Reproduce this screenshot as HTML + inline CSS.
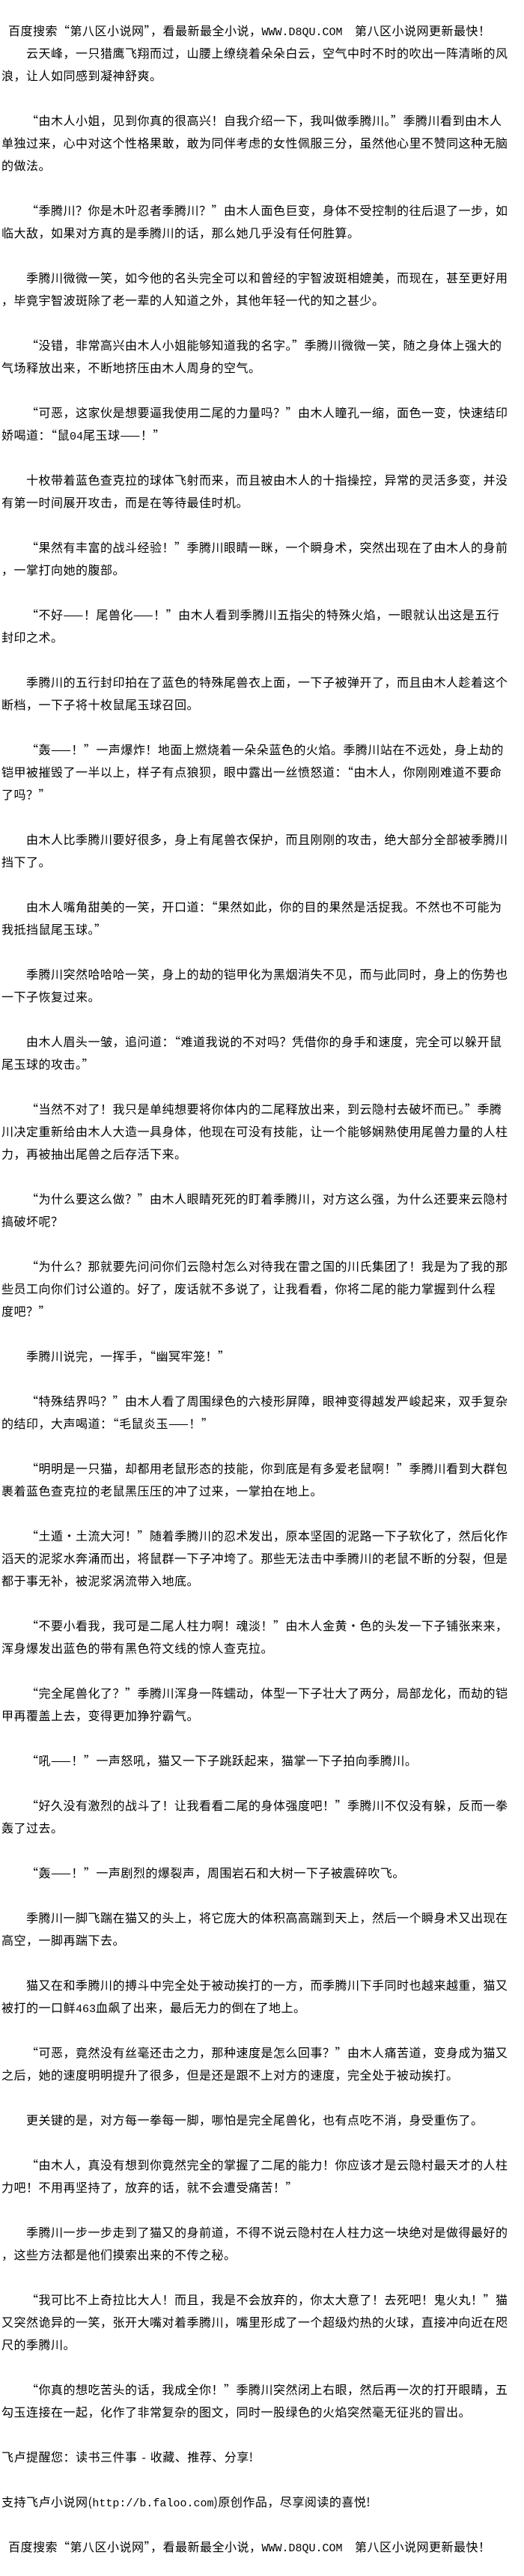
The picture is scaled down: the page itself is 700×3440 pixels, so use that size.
<!DOCTYPE html>
<html><head><meta charset="utf-8">
<style>
html,body{margin:0;padding:0;background:#fff;}
body{width:700px;height:3440px;overflow:hidden;}
#w{padding-top:25px;padding-left:2px;font-family:"Noto Sans CJK SC","Liberation Sans",sans-serif;font-size:16px;letter-spacing:0.5px;color:#000;}
.l{height:30px;line-height:30px;white-space:nowrap;}
.i{padding-left:33px;}
.h{padding-left:9px;}
.m{font-family:"Liberation Mono",monospace;letter-spacing:0;font-size:15px;}
</style></head><body><div id="w">
<div class="l h">百度搜索“第八区小说网”，看最新最全小说，<span class="m">WWW.D8QU.COM</span>　第八区小说网更新最快！</div>
<div class="l i">云天峰，一只猎鹰飞翔而过，山腰上缭绕着朵朵白云，空气中时不时的吹出一阵清晰的风</div>
<div class="l">浪，让人如同感到凝神舒爽。</div>
<div class="l"></div>
<div class="l i">“由木人小姐，见到你真的很高兴！自我介绍一下，我叫做季腾川。”季腾川看到由木人</div>
<div class="l">单独过来，心中对这个性格果敢，敢为同伴考虑的女性佩服三分，虽然他心里不赞同这种无脑</div>
<div class="l">的做法。</div>
<div class="l"></div>
<div class="l i">“季腾川？你是木叶忍者季腾川？”由木人面色巨变，身体不受控制的往后退了一步，如</div>
<div class="l">临大敌，如果对方真的是季腾川的话，那么她几乎没有任何胜算。</div>
<div class="l"></div>
<div class="l i">季腾川微微一笑，如今他的名头完全可以和曾经的宇智波斑相媲美，而现在，甚至更好用</div>
<div class="l">，毕竟宇智波斑除了老一辈的人知道之外，其他年轻一代的知之甚少。</div>
<div class="l"></div>
<div class="l i">“没错，非常高兴由木人小姐能够知道我的名字。”季腾川微微一笑，随之身体上强大的</div>
<div class="l">气场释放出来，不断地挤压由木人周身的空气。</div>
<div class="l"></div>
<div class="l i">“可恶，这家伙是想要逼我使用二尾的力量吗？”由木人瞳孔一缩，面色一变，快速结印</div>
<div class="l">娇喝道：“鼠<span class="m">04</span>尾玉球——！”</div>
<div class="l"></div>
<div class="l i">十枚带着蓝色查克拉的球体飞射而来，而且被由木人的十指操控，异常的灵活多变，并没</div>
<div class="l">有第一时间展开攻击，而是在等待最佳时机。</div>
<div class="l"></div>
<div class="l i">“果然有丰富的战斗经验！”季腾川眼睛一眯，一个瞬身术，突然出现在了由木人的身前</div>
<div class="l">，一掌打向她的腹部。</div>
<div class="l"></div>
<div class="l i">“不好——！尾兽化——！”由木人看到季腾川五指尖的特殊火焰，一眼就认出这是五行</div>
<div class="l">封印之术。</div>
<div class="l"></div>
<div class="l i">季腾川的五行封印拍在了蓝色的特殊尾兽衣上面，一下子被弹开了，而且由木人趁着这个</div>
<div class="l">断档，一下子将十枚鼠尾玉球召回。</div>
<div class="l"></div>
<div class="l i">“轰——！”一声爆炸！地面上燃烧着一朵朵蓝色的火焰。季腾川站在不远处，身上劫的</div>
<div class="l">铠甲被摧毁了一半以上，样子有点狼狈，眼中露出一丝愤怒道：“由木人，你刚刚难道不要命</div>
<div class="l">了吗？”</div>
<div class="l"></div>
<div class="l i">由木人比季腾川要好很多，身上有尾兽衣保护，而且刚刚的攻击，绝大部分全部被季腾川</div>
<div class="l">挡下了。</div>
<div class="l"></div>
<div class="l i">由木人嘴角甜美的一笑，开口道：“果然如此，你的目的果然是活捉我。不然也不可能为</div>
<div class="l">我抵挡鼠尾玉球。”</div>
<div class="l"></div>
<div class="l i">季腾川突然哈哈哈一笑，身上的劫的铠甲化为黑烟消失不见，而与此同时，身上的伤势也</div>
<div class="l">一下子恢复过来。</div>
<div class="l"></div>
<div class="l i">由木人眉头一皱，追问道：“难道我说的不对吗？凭借你的身手和速度，完全可以躲开鼠</div>
<div class="l">尾玉球的攻击。”</div>
<div class="l"></div>
<div class="l i">“当然不对了！我只是单纯想要将你体内的二尾释放出来，到云隐村去破坏而已。”季腾</div>
<div class="l">川决定重新给由木人大造一具身体，他现在可没有技能，让一个能够娴熟使用尾兽力量的人柱</div>
<div class="l">力，再被抽出尾兽之后存活下来。</div>
<div class="l"></div>
<div class="l i">“为什么要这么做？”由木人眼睛死死的盯着季腾川，对方这么强，为什么还要来云隐村</div>
<div class="l">搞破坏呢？</div>
<div class="l"></div>
<div class="l i">“为什么？那就要先问问你们云隐村怎么对待我在雷之国的川氏集团了！我是为了我的那</div>
<div class="l">些员工向你们讨公道的。好了，废话就不多说了，让我看看，你将二尾的能力掌握到什么程</div>
<div class="l">度吧？”</div>
<div class="l"></div>
<div class="l i">季腾川说完，一挥手，“幽冥牢笼！”</div>
<div class="l"></div>
<div class="l i">“特殊结界吗？”由木人看了周围绿色的六棱形屏障，眼神变得越发严峻起来，双手复杂</div>
<div class="l">的结印，大声喝道：“毛鼠炎玉——！”</div>
<div class="l"></div>
<div class="l i">“明明是一只猫，却都用老鼠形态的技能，你到底是有多爱老鼠啊！”季腾川看到大群包</div>
<div class="l">裹着蓝色查克拉的老鼠黑压压的冲了过来，一掌拍在地上。</div>
<div class="l"></div>
<div class="l i">“土遁·土流大河！”随着季腾川的忍术发出，原本坚固的泥路一下子软化了，然后化作</div>
<div class="l">滔天的泥浆水奔涌而出，将鼠群一下子冲垮了。那些无法击中季腾川的老鼠不断的分裂，但是</div>
<div class="l">都于事无补，被泥浆涡流带入地底。</div>
<div class="l"></div>
<div class="l i">“不要小看我，我可是二尾人柱力啊！魂淡！”由木人金黄·色的头发一下子铺张来来，</div>
<div class="l">浑身爆发出蓝色的带有黑色符文线的惊人查克拉。</div>
<div class="l"></div>
<div class="l i">“完全尾兽化了？”季腾川浑身一阵蠕动，体型一下子壮大了两分，局部龙化，而劫的铠</div>
<div class="l">甲再覆盖上去，变得更加狰狞霸气。</div>
<div class="l"></div>
<div class="l i">“吼——！”一声怒吼，猫又一下子跳跃起来，猫掌一下子拍向季腾川。</div>
<div class="l"></div>
<div class="l i">“好久没有激烈的战斗了！让我看看二尾的身体强度吧！”季腾川不仅没有躲，反而一拳</div>
<div class="l">轰了过去。</div>
<div class="l"></div>
<div class="l i">“轰——！”一声剧烈的爆裂声，周围岩石和大树一下子被震碎吹飞。</div>
<div class="l"></div>
<div class="l i">季腾川一脚飞踹在猫又的头上，将它庞大的体积高高踹到天上，然后一个瞬身术又出现在</div>
<div class="l">高空，一脚再踹下去。</div>
<div class="l"></div>
<div class="l i">猫又在和季腾川的搏斗中完全处于被动挨打的一方，而季腾川下手同时也越来越重，猫又</div>
<div class="l">被打的一口鲜<span class="m">463</span>血飙了出来，最后无力的倒在了地上。</div>
<div class="l"></div>
<div class="l i">“可恶，竟然没有丝毫还击之力，那种速度是怎么回事？”由木人痛苦道，变身成为猫又</div>
<div class="l">之后，她的速度明明提升了很多，但是还是跟不上对方的速度，完全处于被动挨打。</div>
<div class="l"></div>
<div class="l i">更关键的是，对方每一拳每一脚，哪怕是完全尾兽化，也有点吃不消，身受重伤了。</div>
<div class="l"></div>
<div class="l i">“由木人，真没有想到你竟然完全的掌握了二尾的能力！你应该才是云隐村最天才的人柱</div>
<div class="l">力吧！不用再坚持了，放弃的话，就不会遭受痛苦！”</div>
<div class="l"></div>
<div class="l i">季腾川一步一步走到了猫又的身前道，不得不说云隐村在人柱力这一块绝对是做得最好的</div>
<div class="l">，这些方法都是他们摸索出来的不传之秘。</div>
<div class="l"></div>
<div class="l i">“我可比不上奇拉比大人！而且，我是不会放弃的，你太大意了！去死吧！鬼火丸！”猫</div>
<div class="l">又突然诡异的一笑，张开大嘴对着季腾川，嘴里形成了一个超级灼热的火球，直接冲向近在咫</div>
<div class="l">尺的季腾川。</div>
<div class="l"></div>
<div class="l i">“你真的想吃苦头的话，我成全你！”季腾川突然闭上右眼，然后再一次的打开眼睛，五</div>
<div class="l">勾玉连接在一起，化作了非常复杂的图文，同时一股绿色的火焰突然毫无征兆的冒出。</div>
<div class="l"></div>
<div class="l">飞卢提醒您：读书三件事 <span class="m">-</span> 收藏、推荐、分享!</div>
<div class="l"></div>
<div class="l">支持飞卢小说网(<span class="m">http://b.faloo.com</span>)原创作品，尽享阅读的喜悦!</div>
<div class="l"></div>
<div class="l h">百度搜索“第八区小说网”，看最新最全小说，<span class="m">WWW.D8QU.COM</span>　第八区小说网更新最快！</div>
</div></body></html>
